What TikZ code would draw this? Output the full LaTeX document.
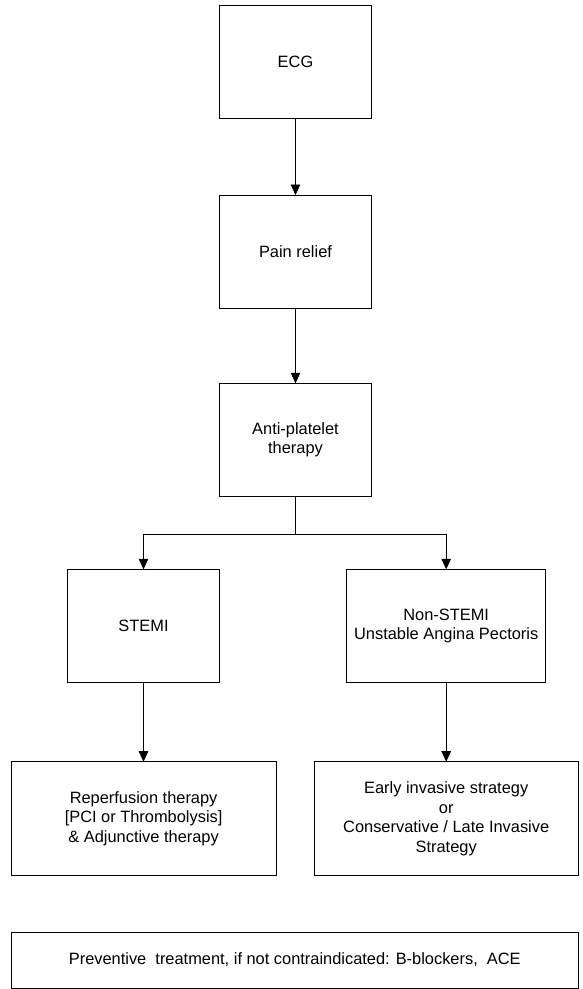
\documentclass[tikz,border=0pt]{standalone}
\usepackage{fontspec}
\setmainfont{Liberation Sans}
\usetikzlibrary{arrows.meta}

\tikzset{
  box/.style={draw, line width=0.8pt, inner sep=0pt, outer sep=0pt, align=center,
    font=\fontsize{16.4}{19.5}\selectfont},
  arr/.style={line width=0.8pt, -{Triangle[length=10.5pt,width=9.5pt]}}
}

\begin{document}
\begin{tikzpicture}[x=1pt,y=1pt,yscale=-1,xscale=1]
\useasboundingbox (0,0) rectangle (582,989);

%Shape: Rectangle
\node [box, minimum width=151.5, minimum height=113] (ecg) at (295.5,61.5) {ECG};
%Shape: Rectangle
\node [box, minimum width=151.5, minimum height=113] (pain) at (295.5,251.5) {Pain relief};
%Shape: Rectangle
\node [box, minimum width=151.5, minimum height=113.4] (anti) at (295.5,440) {Anti-platelet\\therapy};
%Shape: Rectangle
\node [box, minimum width=151.6, minimum height=113] (stemi) at (143.5,625.8) {STEMI};
%Shape: Rectangle
\node [box, minimum width=199, minimum height=113] (nstemi) at (446.2,625.8) {Non-STEMI\\Unstable Angina Pectoris};
%Shape: Rectangle
\node [box, minimum width=264.7, minimum height=113.8] (reperf) at (143.6,818.6) {Reperfusion therapy\\{}[PCI or Thrombolysis]\\\& Adjunctive therapy};
%Shape: Rectangle
\node [box, minimum width=264.5, minimum height=113.8] (strat) at (446.2,818.6) {Early invasive strategy\\or\\Conservative / Late Invasive\\Strategy};
%Shape: Rectangle
\node [box, minimum width=567.5, minimum height=56] (prev) at (294.8,960) {Preventive\ \ treatment, if not contraindicated: B-blockers,\ \ ACE};

%Straight Lines
\coordinate (split) at (295.5,534.7);
\draw [arr] (ecg) -- (pain);
\draw [arr] (pain) -- (anti);
\draw [line width=0.8pt] (anti) -- (split);
\draw [arr] (split) -| (stemi);
\draw [arr] (split) -| (nstemi);
\draw [arr] (stemi) -- (stemi |- reperf.north);
\draw [arr] (nstemi) -- (nstemi |- strat.north);

\end{tikzpicture}
\end{document}
